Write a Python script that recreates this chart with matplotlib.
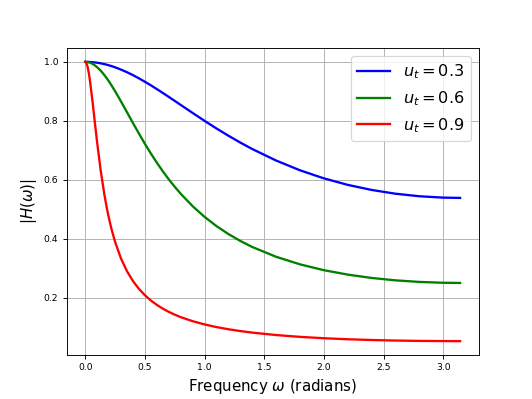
import matplotlib
matplotlib.use("Agg")
import matplotlib.pyplot as plt

# frequency samples (radians), denser near 0 where the curves bend sharply
omega = [0.0, 0.01, 0.02, 0.03, 0.04, 0.06, 0.08, 0.10, 0.13, 0.16, 0.18,
         0.20, 0.22, 0.25, 0.30, 0.35, 0.40, 0.45, 0.50, 0.55, 0.60, 0.65,
         0.70, 0.75, 0.80, 0.90, 1.0, 1.1, 1.2, 1.3, 1.4, 1.6, 1.8,
         2.0, 2.2, 2.4, 2.6, 2.8, 3.0, 3.14159]

# |H(w)|
h_03 = [1.0, 1.0, 0.9999, 0.9997, 0.9995, 0.9989, 0.9980, 0.9970, 0.9949,
        0.9923, 0.9903, 0.9880, 0.9856, 0.9815, 0.9737, 0.9648, 0.9549, 0.9441,
        0.9325, 0.9204, 0.9076, 0.8945, 0.8812, 0.8676, 0.8539, 0.8267, 0.7999,
        0.7740, 0.7494, 0.7261, 0.7042, 0.6652, 0.6321, 0.6048, 0.5827, 0.5655,
        0.5527, 0.5441, 0.5394, 0.5385]
h_06 = [1.0, 0.9998, 0.9993, 0.9983, 0.9970, 0.9933, 0.9882, 0.9818, 0.9698,
        0.9553, 0.9444, 0.9327, 0.9203, 0.9005, 0.8655, 0.8291, 0.7925, 0.7567,
        0.7220, 0.6891, 0.6580, 0.6288, 0.6015, 0.5762, 0.5526, 0.5104, 0.4742,
        0.4429, 0.4159, 0.3924, 0.3720, 0.3387, 0.3131, 0.2933, 0.2783, 0.2670,
        0.2588, 0.2535, 0.2506, 0.2500]
h_09 = [1.0, 0.9955, 0.9825, 0.9618, 0.9349, 0.8691, 0.7966, 0.7256, 0.6301,
        0.5506, 0.5058, 0.4669, 0.4328, 0.3894, 0.3326, 0.2897, 0.2564, 0.2299,
        0.2084, 0.1905, 0.1756, 0.1629, 0.1519, 0.1424, 0.1341, 0.1203, 0.1093,
        0.1003, 0.0929, 0.0868, 0.0815, 0.0733, 0.0671, 0.0625, 0.0590, 0.0565,
        0.0546, 0.0534, 0.0528, 0.0526]

labels = [r'$u_t = 0.3$', r'$u_t = 0.6$', r'$u_t = 0.9$']

fig, ax = plt.subplots(figsize=(6.4, 4.8), dpi=83.125)
ax.plot(omega, h_03, 'b', lw=2, label=labels[0])
ax.plot(omega, h_06, 'g', lw=2, label=labels[1])
ax.plot(omega, h_09, 'r', lw=2, label=labels[2])

ax.set_xticks([0.0, 0.5, 1.0, 1.5, 2.0, 2.5, 3.0])
ax.set_yticks([0.2, 0.4, 0.6, 0.8, 1.0])
ax.tick_params(labelsize=8)
ax.set_xlabel(r'Frequency $\omega$ (radians)', fontsize=13)
ax.set_ylabel(r'$|H(\omega)|$', fontsize=13)
ax.grid(True)
ax.legend(fontsize=14)

plt.savefig('out.png')
